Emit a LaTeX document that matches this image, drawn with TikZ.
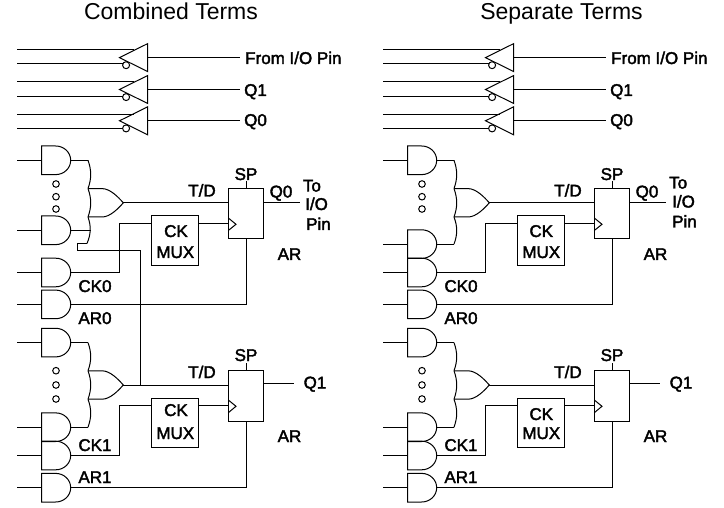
\documentclass[tikz,border=0pt]{standalone}
\usepackage{fontspec}
\usetikzlibrary{calc}
\setmainfont{Liberation Sans}
\newfontfamily\labfont[FakeBold=2.2]{Liberation Sans}
\newcommand{\gateand}[3]{% name, x, y centre
  \begin{scope}[shift={(#2,#3)}]
    \coordinate (#1-in) at (0,0);
    \coordinate (#1-out) at (29,0);
    \draw[wire] (0,-14.3) -- (14,-14.3) .. controls (22.3,-14.3) and (29,-7.9) .. (29,0)
      .. controls (29,7.9) and (22.3,14.3) .. (14,14.3) -- (0,14.3) -- cycle;
  \end{scope}}
\newcommand{\gateor}[3]{% name, x, y centre
  \begin{scope}[shift={(#2,#3)}]
    \coordinate (#1-top) at (0,-14.2);
    \coordinate (#1-bot) at (0,14.2);
    \coordinate (#1-out) at (35.3,0);
    \draw[wire] (0,-14.2) -- (14,-14.2) .. controls (22,-14.2) and (30,-6) .. (35.3,0)
      .. controls (30,6) and (22,14.2) .. (14,14.2) -- (0,14.2);
  \end{scope}}
\newcommand{\gatebuf}[3]{% name, x of tip, y centre
  \begin{scope}[shift={(#2,#3)}]
    \coordinate (#1-out) at (28.2,0);
    \draw[wire] (28.2,-14) -- (0,0) -- (28.2,14) -- cycle;
    \node[bub] (#1-bub) at (6.6,7.6) {};
  \end{scope}}
\newcommand{\arcbus}[2]{\draw[wire] (#1) .. controls ($(#1)!0.35!(#2)+(3.6,0)$) and ($(#1)!0.65!(#2)+(3.6,0)$) .. (#2);}
\newcommand{\flipflop}[3]{% name, y top, y bottom
  \node[ffbox,minimum height=#3pt-#2pt] (#1) at (246,{(#2+#3)/2}) {};}
\newcommand{\panel}[1]{% prefix
  % buffers
  \foreach \n/\yc/\ya/\yb in {a/57.6/50/64,b/89.5/82/96.3,c/120.8/114.3/128.5}{
    \gatebuf{#1\n}{119.5}{\yc}
    \coordinate (#1\n-ia) at (17,\ya);
    \coordinate (#1\n-ib) at (17,\yb);
    \coordinate (#1\n-ea) at (134,\ya);
    \coordinate (#1\n-eb) at (122.7,\yb);
    \coordinate (#1\n-e) at (240,\yc);
    \draw[wire] (#1\n-ia) -- (#1\n-ea);
    \draw[wire] (#1\n-ib) -- (#1\n-eb);
    \draw[wire] (#1\n-out) -- (#1\n-e);
  }
  % upper group
  \gateand{#1u1}{41.7}{160.3}
  \gateor{#1uo}{88}{202.8}
  \coordinate (#1u1-end) at (88,160.3);
  \draw[wire] (#1u1-in)++(-24.7,0) coordinate (#1u1-s) -- (#1u1-in);
  \draw[wire] (#1u1-out) -- (#1u1-end);
  \arcbus{#1u1-end}{#1uo-top}
  \arcbus{#1uo-top}{#1uo-bot}
  \node[dot] (#1d1) at (56,184) {};
  \node[dot] (#1d2) at (56,196.7) {};
  \node[dot] (#1d3) at (56,209) {};
  \gateand{#1ck0}{41.7}{272.5}
  \gateand{#1ar0}{41.7}{304.4}
  \draw[wire] (#1ck0-in)++(-24.7,0) coordinate (#1ck0-s) -- (#1ck0-in);
  \draw[wire] (#1ar0-in)++(-24.7,0) coordinate (#1ar0-s) -- (#1ar0-in);
  % upper flip-flop and mux
  \flipflop{#1ff0}{188.7}{238.3}
  \node[muxbox,minimum height=50pt] (#1mx0) at (175.3,241) {};
  \coordinate (#1ck0-c) at (119.5,272.5);
  \coordinate (#1ck0-d) at (119.5,224);
  \coordinate (#1mx0-in) at (151.7,224);
  \coordinate (#1mx0-out) at (198.9,224);
  \coordinate (#1ff0-ck) at (228.3,224);
  \coordinate (#1ff0-ar) at (246,304.4);
  \draw[wire] (#1ck0-out) -- (#1ck0-c) -- (#1ck0-d) -- (#1mx0-in);
  \draw[wire] (#1mx0-out) -- (#1ff0-ck);
  \draw[wire] (228.3,218) -- (236,224.3) -- (228.3,230.5);
  \draw[wire] (#1ar0-out) -- (#1ff0-ar) -- (#1ff0.south);
  \coordinate (#1ff0-sp) at (246,181);
  \draw[wire] (#1ff0-sp) -- (#1ff0.north);
  \coordinate (#1ff0-d) at (228.3,202.8);
  \draw[wire] (#1uo-out) -- (#1ff0-d);
  % lower group
  \gateand{#1l1}{41.7}{342.6}
  \gateor{#1lo}{88}{385}
  \gateand{#1l2}{41.7}{427.2}
  \gateand{#1ck1}{41.7}{455.5}
  \gateand{#1ar1}{41.7}{487.7}
  \foreach \g in {l1,l2,ck1,ar1}{
    \draw[wire] (#1\g-in)++(-24.7,0) coordinate (#1\g-s) -- (#1\g-in);
  }
  \coordinate (#1l1-end) at (88,342.6);
  \coordinate (#1l2-end) at (88,427.2);
  \draw[wire] (#1l1-out) -- (#1l1-end);
  \draw[wire] (#1l2-out) -- (#1l2-end);
  \arcbus{#1l1-end}{#1lo-top}
  \arcbus{#1lo-top}{#1lo-bot}
  \arcbus{#1lo-bot}{#1l2-end}
  \node[dot] (#1d4) at (56,370.7) {};
  \node[dot] (#1d5) at (56,385) {};
  \node[dot] (#1d6) at (56,399) {};
  \flipflop{#1ff1}{370.7}{421}
  \node[muxbox,minimum height=49.4pt] (#1mx1) at (175.3,423) {};
  \coordinate (#1ck1-c) at (119.5,455.5);
  \coordinate (#1ck1-d) at (119.5,405.8);
  \coordinate (#1mx1-in) at (151.7,405.8);
  \coordinate (#1mx1-out) at (198.9,405.8);
  \coordinate (#1ff1-ck) at (228.3,405.8);
  \coordinate (#1ff1-ar) at (246,487.7);
  \draw[wire] (#1ck1-out) -- (#1ck1-c) -- (#1ck1-d) -- (#1mx1-in);
  \draw[wire] (#1mx1-out) -- (#1ff1-ck);
  \draw[wire] (228.3,400) -- (236,406.3) -- (228.3,412.7);
  \draw[wire] (#1ar1-out) -- (#1ff1-ar) -- (#1ff1.south);
  \coordinate (#1ff1-sp) at (246,363);
  \draw[wire] (#1ff1-sp) -- (#1ff1.north);
  \coordinate (#1ff1-d) at (228.3,385);
  \draw[wire] (#1lo-out) -- (#1ff1-d);
  \coordinate (#1ff1-qs) at (263.7,383.3);
  \coordinate (#1ff1-qe) at (294,383.3);
  \draw[wire] (#1ff1-qs) -- (#1ff1-qe);
  \coordinate (#1ff0-qs) at (263.7,202.8);
  \coordinate (#1ff0-qe) at (299.5,202.8);
  \draw[wire] (#1ff0-qs) -- (#1ff0-qe);
  % labels
  \node[lbl,anchor=base west] (#1t1) at (245,64) {From I/O Pin};
  \node[lbl,anchor=base west] (#1t2) at (244,96) {Q1};
  \node[lbl,anchor=base west] (#1t3) at (244,126) {Q0};
  \node[lbl] (#1t4) at (202,196.5) {T/D};
  \node[lbl] (#1t5) at (246,180) {SP};
  \node[lbl] (#1t6) at (281,197.5) {Q0};
  \node[lbl] (#1t7) at (289.5,260) {AR};
  \node[lbl] (#1t8) at (95,292) {CK0};
  \node[lbl] (#1t9) at (95,324) {AR0};
  \node[lbl] (#1t10) at (202,378) {T/D};
  \node[lbl] (#1t11) at (246,361) {SP};
  \node[lbl] (#1t12) at (315,388.5) {Q1};
  \node[lbl] (#1t13) at (289.5,442) {AR};
  \node[lbl] (#1t14) at (95,451) {CK1};
  \node[lbl] (#1t15) at (95,483) {AR1};
}
\begin{document}
\begin{tikzpicture}[x=1pt,y=-1pt,
  wire/.style={line width=1pt,line join=miter,black},
  bub/.style={circle,draw=black,line width=1pt,minimum size=7pt,inner sep=0pt,fill=white},
  dot/.style={circle,draw=black,line width=1pt,minimum size=6.6pt,inner sep=0pt},
  ffbox/.style={rectangle,draw=black,line width=1pt,minimum width=35.4pt,inner sep=0pt},
  muxbox/.style={rectangle,draw=black,line width=1pt,minimum width=47.2pt,inner sep=0pt},
  lbl/.style={anchor=base,inner sep=0pt,font=\labfont\fontsize{17}{17}\selectfont,text=black},
  ttl/.style={anchor=base,inner sep=0pt,font=\fontsize{23}{23}\selectfont,text=black}]
\useasboundingbox (0,0) rectangle (724,508);
\node[ttl] (title1) at (171,19.5) {Combined Terms};
\node[ttl] (title2) at (561.5,19.5) {Separate Terms};
% ---- left panel ----
\panel{L}
\gateand{Lu2}{41.7}{230.3}
\draw[wire] (Lu2-in)++(-24.7,0) coordinate (Lu2-s) -- (Lu2-in);
\coordinate (Lu2-end) at (90.5,230.3);
\draw[wire] (Lu2-out) -- (Lu2-end);
\coordinate (Lbus-end) at (87,243.5);
\arcbus{Luo-bot}{Lbus-end}
\coordinate (Lj1) at (77.3,243.5);
\coordinate (Lj2) at (77.3,250.8);
\coordinate (Lj3) at (140.7,250.8);
\coordinate (Lj4) at (140.7,385);
\draw[wire] (Lbus-end) -- (Lj1) -- (Lj2) -- (Lj3) -- (Lj4);
\node[lbl] (Lck0a) at (176,237) {CK};
\node[lbl] (Lmx0a) at (175.3,258) {MUX};
\node[lbl] (Lck1a) at (176,416) {CK};
\node[lbl] (Lmx1a) at (175.3,439) {MUX};
\node[lbl,anchor=base west] (Lto1) at (302.7,191.5) {To};
\node[lbl,anchor=base west] (Lto2) at (305,210) {I/O};
\node[lbl,anchor=base west] (Lto3) at (306,230) {Pin};
% ---- right panel ----
\begin{scope}[xshift=366pt]
\panel{R}
\gateand{Ru2}{41.7}{244.1}
\draw[wire] (Ru2-in)++(-24.7,0) coordinate (Ru2-s) -- (Ru2-in);
\coordinate (Ru2-end) at (88,244.1);
\draw[wire] (Ru2-out) -- (Ru2-end);
\arcbus{Ruo-bot}{Ru2-end}
\node[lbl] (Rck0a) at (175.3,237) {CK};
\node[lbl] (Rmx0a) at (175.3,258) {MUX};
\node[lbl] (Rck1a) at (175.3,420) {CK};
\node[lbl] (Rmx1a) at (175.3,439) {MUX};
\node[lbl,anchor=base west] (Rto1) at (303,188.5) {To};
\node[lbl,anchor=base west] (Rto2) at (306,207.5) {I/O};
\node[lbl,anchor=base west] (Rto3) at (306,227.5) {Pin};
\end{scope}
\end{tikzpicture}
\end{document}
